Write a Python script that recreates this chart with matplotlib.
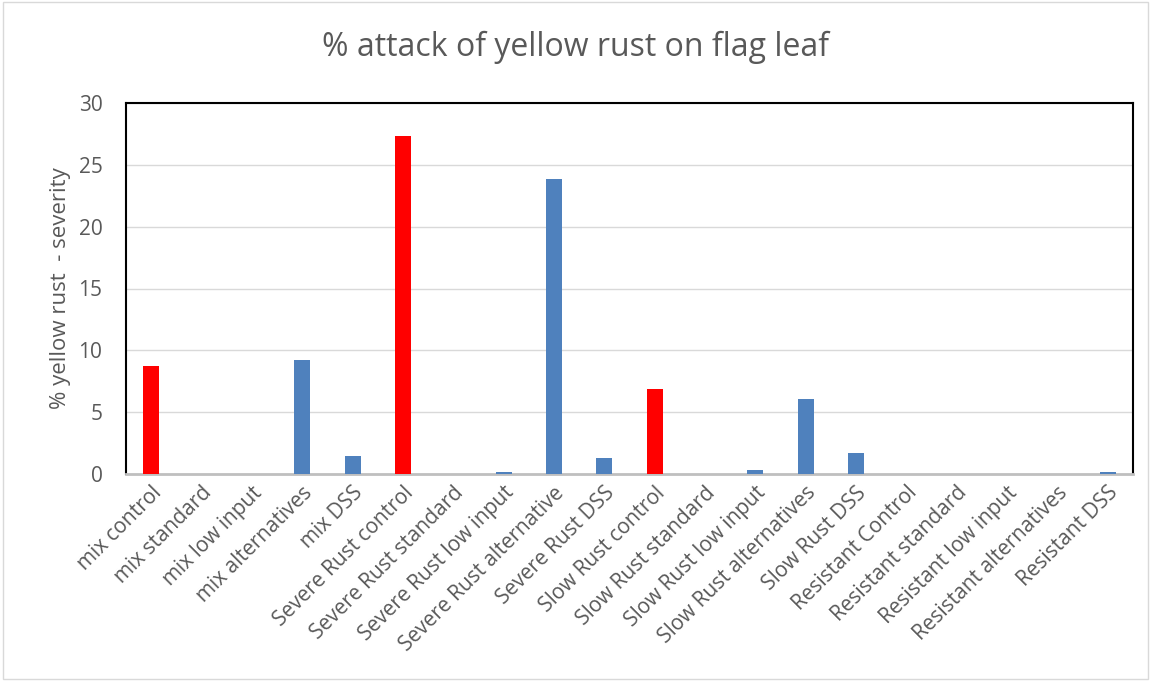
import matplotlib
matplotlib.use("Agg")
import matplotlib.pyplot as plt
from matplotlib.patches import Rectangle

plt.rcParams['font.family'] = ['Open Sans', 'DejaVu Sans']

categories = ["mix control", "mix standard", "mix low input", "mix alternatives", "mix DSS",
              "Severe Rust control", "Severe Rust standard", "Severe Rust low input",
              "Severe Rust alternative", "Severe Rust DSS",
              "Slow Rust control", "Slow Rust standard", "Slow Rust low input",
              "Slow Rust alternatives", "Slow Rust DSS",
              "Resistant Control", "Resistant standard", "Resistant low input",
              "Resistant alternatives", "Resistant DSS"]
severity = [8.7, 0.0, 0.03, 9.2, 1.45,
            27.3, 0.02, 0.15, 23.85, 1.3,
            6.9, 0.0, 0.3, 6.1, 1.7,
            0.03, 0.0, 0.0, 0.0, 0.15]
is_control = [c.lower().endswith("control") for c in categories]

RED = "#FF0000"
BLUE = "#4F81BD"
colors = [RED if ctl else BLUE for ctl in is_control]

fig = plt.figure(figsize=(11.51, 6.81), dpi=100)
ax = fig.add_axes([126 / 1151, 1 - 474 / 681, (1133 - 126) / 1151, (474 - 103) / 681])

x = range(len(categories))
ax.bar(x, severity, width=0.32, color=colors, zorder=3)

ax.set_xlim(-0.5, len(categories) - 0.5)
ax.set_ylim(0, 30)
ax.set_yticks(range(0, 31, 5))
ax.yaxis.grid(True, color="#D9D9D9", linewidth=1, zorder=0)
ax.tick_params(axis="y", length=0, labelsize=15, colors="#595959", pad=17)
ax.tick_params(axis="x", length=0, labelsize=15, colors="#595959", pad=6)
ax.set_xticks(list(x))
ax.set_xticklabels(categories, rotation=45, ha="right", rotation_mode="anchor")

for side in ["top", "right", "left"]:
    ax.spines[side].set_color("black")
    ax.spines[side].set_linewidth(1.5)
ax.spines["bottom"].set_color("#BFBFBF")
ax.spines["bottom"].set_linewidth(2)

ax.set_ylabel("% yellow rust  - severity", fontsize=16, color="#595959", labelpad=5)
fig.suptitle("% attack of yellow rust on flag leaf", fontsize=23, color="#595959",
             y=0.93, va="center")

# light outer border around the whole chart
fig.patches.append(Rectangle((0.003, 0.003), 0.994, 0.994, transform=fig.transFigure,
                             fill=False, edgecolor="#D9D9D9", linewidth=1))

fig.savefig("out.png", dpi=100)
